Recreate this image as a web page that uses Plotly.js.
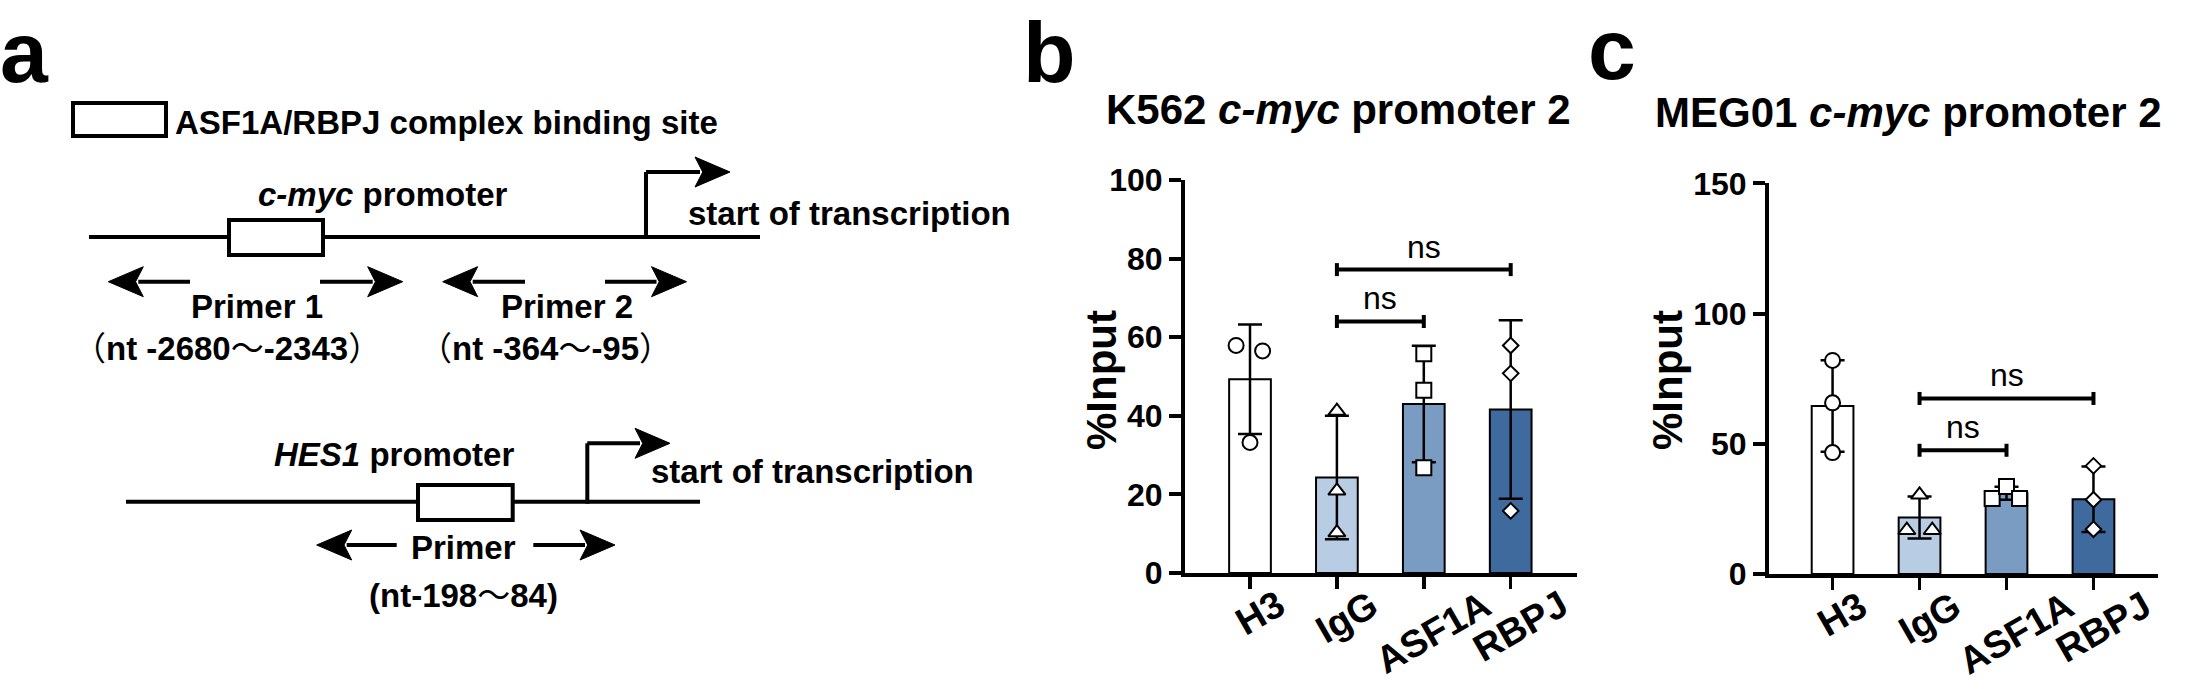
<!DOCTYPE html>
<html>
<head>
<meta charset="utf-8">
<script src="https://cdn.plot.ly/plotly-3.0.1.min.js"></script>
<style>
html,body{margin:0;padding:0;background:#fff;}
#chart{width:2210px;height:689px;}
</style>
</head>
<body>
<div id="chart"></div>
<script>
// ---------------- data ----------------
const categories = ['H3', 'IgG', 'ASF1A', 'RBPJ'];

const k562Title = 'K562 <i>c-myc</i> promoter 2';
const k562Mean = [49.3, 24.3, 43.0, 41.6];
const k562SD = [13.9, 15.7, 14.8, 22.7];
const k562Points = [[57.9, 56.5, 33.2], [41.2, 20.9, 10.3], [55.8, 46.5, 26.8], [57.9, 50.8, 15.8]];
const k562Ticks = [0, 20, 40, 60, 80, 100];
const k562Brackets = [[1, 2, 64.0], [1, 3, 77.2]];

const meg01Title = 'MEG01 <i>c-myc</i> promoter 2';
const meg01Mean = [64.5, 21.7, 31.0, 28.7];
const meg01SD = [17.6, 8.1, 2.5, 12.6];
const meg01Points = [[82.0, 65.7, 46.6], [30.4, 16.8, 16.8], [29.0, 33.6, 29.0], [41.5, 28.5, 17.2]];
const meg01Ticks = [0, 50, 100, 150];
const meg01Brackets = [[1, 2, 47.5], [1, 3, 67.4]];

const yTitle = '%Input';
const bracketText = 'ns';

// ---------------- style / layout helpers ----------------
const W = 2210, H = 689;
const FONT = 'Liberation Sans, Arial, Helvetica, sans-serif';
const FONT_CJK = 'Liberation Sans, Arial, "Noto Sans CJK SC", sans-serif';
const barColors = ['#ffffff', '#b8cce4', '#7a9bc2', '#3e6a9e'];
const symbols = ['circle', 'triangle-up', 'square', 'diamond'];
const symbolSizes = [15, 15, 15, 12];
// horizontal scatter of the replicate dots (category units)
const k562Jitter = [[-0.16, 0.145, 0], [0, 0, 0], [0, 0, 0], [0, 0, 0]];
const meg01Jitter = [[0, 0, 0], [0, -0.146, 0.146], [-0.165, 0, 0.15], [0, 0, 0]];

const PX = v => v / W;
const PY = v => 1 - v / H;

function panelTraces(means, sds, points, jitter, xa, ya) {
  const tr = [{
    type: 'bar', x: categories.map((c, i) => i), y: means, width: 0.48,
    xaxis: xa, yaxis: ya, hoverinfo: 'skip',
    marker: {color: barColors, line: {color: '#000', width: 2}},
    error_y: {type: 'data', array: sds, visible: true, color: '#000', thickness: 2.5, width: 12}
  }];
  categories.forEach((c, i) => {
    tr.push({
      type: 'scatter', mode: 'markers', xaxis: xa, yaxis: ya, hoverinfo: 'skip', cliponaxis: false,
      x: points[i].map((v, j) => i + jitter[i][j]), y: points[i],
      marker: {symbol: symbols[i], size: symbolSizes[i], color: '#fff', line: {color: '#000', width: 2}}
    });
  });
  return tr;
}

const data = [].concat(
  panelTraces(k562Mean, k562SD, k562Points, k562Jitter, 'x', 'y'),
  panelTraces(meg01Mean, meg01SD, meg01Points, meg01Jitter, 'x2', 'y2')
);

function xAxis(px0, px1, range, anchor) {
  return {
    domain: [PX(px0), PX(px1)], range: range, anchor: anchor, fixedrange: true,
    tickvals: categories.map((c, i) => i), showticklabels: false,
    ticks: 'outside', ticklen: 12, tickwidth: 3.5, tickcolor: '#000',
    showline: true, linewidth: 4, linecolor: '#000', showgrid: false, zeroline: false
  };
}
function yAxis(pxBottom, pxTop, range, ticks, anchor) {
  return {
    domain: [PY(pxBottom), PY(pxTop)], range: range, anchor: anchor, fixedrange: true,
    tickvals: ticks, ticks: 'outside', ticklen: 12, tickwidth: 4, tickcolor: '#000',
    tickfont: {family: FONT, size: 32, color: '#000', weight: 'bold'},
    showline: true, linewidth: 4, linecolor: '#000', showgrid: false, zeroline: false
  };
}

function ann(text, px, py, size, o) {
  o = o || {};
  return {
    text: text, x: PX(px), y: PY(py), xref: 'paper', yref: 'paper', showarrow: false,
    xanchor: o.xa || 'center', yanchor: o.ya || 'middle', textangle: o.angle || 0,
    borderpad: 0, borderwidth: 0,
    font: {family: o.family || FONT, size: size, color: '#000', weight: o.weight || 'bold'}
  };
}

const annotations = [];
const shapes = [];

// panel letters and titles
annotations.push(ann('a', 0, 4, 86, {xa: 'left', ya: 'top'}));
annotations.push(ann('b', 1023, 4, 86, {xa: 'left', ya: 'top'}));
annotations.push(ann('c', 1588, 1.5, 86, {xa: 'left', ya: 'top'}));
annotations.push(ann(k562Title, 1338.5, 110, 42));
annotations.push(ann(meg01Title, 1908, 112, 42));
annotations.push(ann(yTitle, 1101, 380, 42, {angle: -90}));
annotations.push(ann(yTitle, 1667, 380, 42, {angle: -90}));

// category tick labels (rotated)
function tickLabels(xa, ya) {
  categories.forEach((c, i) => {
    annotations.push({
      text: c, xref: xa, x: i, yref: ya + ' domain', y: 0, yshift: -10, xshift: 10,
      xanchor: 'center', yanchor: 'top', textangle: -30, showarrow: false,
      borderpad: 0, borderwidth: 0,
      font: {family: FONT, size: 38, color: '#000', weight: 'bold'}
    });
  });
}
tickLabels('x', 'y');
tickLabels('x2', 'y2');

// significance brackets
function brackets(list, xa, ya) {
  list.forEach(b => {
    const [a, c, h] = b;
    shapes.push({type: 'line', xref: xa, yref: ya, x0: a, x1: c, y0: h, y1: h, line: {color: '#000', width: 4}});
    [a, c].forEach(xv => shapes.push({
      type: 'line', xref: xa, yref: ya, x0: xv, x1: xv, ysizemode: 'pixel', yanchor: h, y0: -6.5, y1: 6.5,
      line: {color: '#000', width: 4}
    }));
    annotations.push({
      text: bracketText, xref: xa, yref: ya, x: (a + c) / 2, y: h, yanchor: 'bottom', xanchor: 'center',
      yshift: 5, showarrow: false, borderpad: 0, borderwidth: 0,
      font: {family: FONT, size: 32, color: '#000', weight: 'normal'}
    });
  });
}
brackets(k562Brackets, 'x', 'y');
brackets(meg01Brackets, 'x2', 'y2');

// ---------------- panel a schematic ----------------
function line(x0, y0, x1, y1) {
  shapes.push({type: 'line', xref: 'paper', yref: 'paper', x0: PX(x0), y0: PY(y0), x1: PX(x1), y1: PY(y1),
    line: {color: '#000', width: 4}});
}
function box(x0, y0, x1, y1) {
  shapes.push({type: 'rect', xref: 'paper', yref: 'paper', x0: PX(x0), y0: PY(y0), x1: PX(x1), y1: PY(y1),
    fillcolor: '#fff', line: {color: '#000', width: 4}});
}
function head(tipX, y, dir) {
  const len = 35, half = 15;
  const bx = tipX - dir * len, nx = tipX - dir * len * 0.78;
  const p = 'M ' + PX(tipX) + ' ' + PY(y) + ' L ' + PX(bx) + ' ' + PY(y - half) + ' L ' + PX(nx) + ' ' + PY(y) +
            ' L ' + PX(bx) + ' ' + PY(y + half) + ' Z';
  shapes.push({type: 'path', xref: 'paper', yref: 'paper', path: p, fillcolor: '#000', line: {color: '#000', width: 1}});
}
function arrow(tailX, tipX, y) {
  const dir = tipX > tailX ? 1 : -1;
  line(tailX, y, tipX - dir * 30, y);
  head(tipX, y, dir);
}

const FA = 33;
// legend
box(73, 103, 166, 136);
annotations.push(ann('ASF1A/RBPJ complex binding site', 175, 123, FA, {xa: 'left'}));

// c-myc promoter
line(89, 237, 760, 237);
box(229, 220, 323, 255);
line(646, 239, 646, 172);
arrow(646, 730, 172);
annotations.push(ann('<i>c-myc</i> promoter', 382.6, 195, FA));
annotations.push(ann('start of transcription', 688, 213, FA, {xa: 'left'}));
arrow(190, 108.3, 281.7);
arrow(320, 402.7, 281.7);
arrow(525, 442.7, 281.7);
arrow(605, 686.5, 281.7);
annotations.push(ann('Primer 1', 257, 306.7, FA));
annotations.push(ann('Primer 2', 567, 306.7, FA));
annotations.push(ann('（<b>nt -2680</b>～<b>-2343</b>）', 226.7, 348, FA, {family: FONT_CJK, weight: 'normal'}));
annotations.push(ann('（<b>nt -364</b>～<b>-95</b>）', 545, 348, FA, {family: FONT_CJK, weight: 'normal'}));

// HES1 promoter
line(126, 501.7, 700, 501.7);
box(418, 485, 512.7, 520);
line(587.3, 503.7, 587.3, 443.3);
arrow(587.3, 670, 443.3);
annotations.push(ann('<i>HES1</i> promoter', 393.5, 454.7, FA));
annotations.push(ann('start of transcription', 651, 471, FA, {xa: 'left'}));
arrow(396.7, 316.7, 545);
arrow(533.3, 615, 545);
annotations.push(ann('Primer', 463.3, 547.5, FA));
annotations.push(ann('<b>(nt-198</b>～<b>84)</b>', 463.5, 595, FA, {family: FONT_CJK, weight: 'normal'}));

const layout = {
  width: W, height: H, margin: {l: 0, r: 0, t: 0, b: 0},
  paper_bgcolor: '#fff', plot_bgcolor: 'rgba(0,0,0,0)', showlegend: false,
  font: {family: FONT, color: '#000'},
  xaxis: xAxis(1185, 1577, [-0.748, 3.763], 'y'),
  yaxis: yAxis(573, 180, [0, 100], k562Ticks, 'x'),
  xaxis2: xAxis(1769, 2158, [-0.731, 3.742], 'y2'),
  yaxis2: yAxis(574, 183.3, [0, 150], meg01Ticks, 'x2'),
  annotations: annotations,
  shapes: shapes
};

Plotly.newPlot('chart', data, layout, {displayModeBar: false, staticPlot: true});
</script>
</body>
</html>
